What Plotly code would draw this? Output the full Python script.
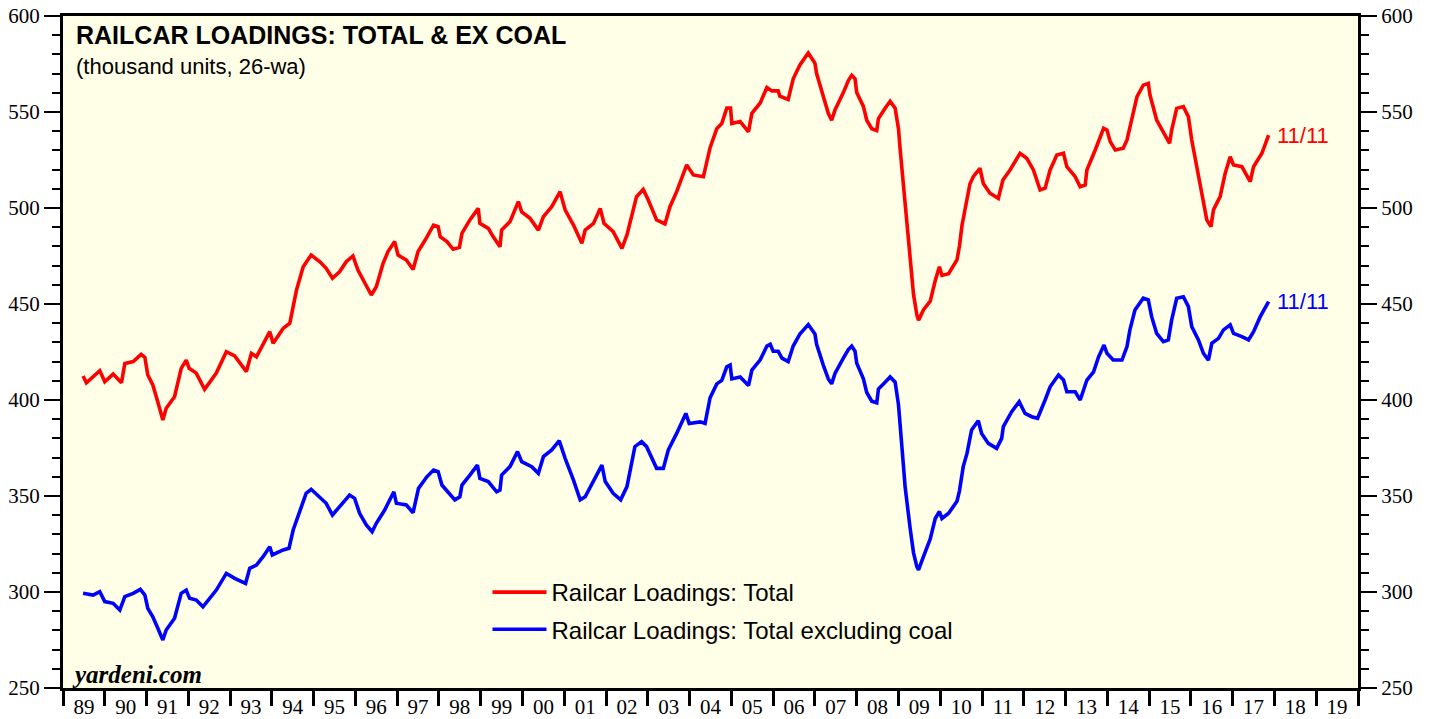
import plotly.graph_objects as go

# ---- data (decimal year, thousand units, 26-week average) ----
total_dates = [
    1989.48, 1989.56, 1989.88, 1990.00, 1990.20, 1990.40, 1990.48, 1990.68, 1990.87, 1990.96,
    1991.03, 1991.15, 1991.27, 1991.39, 1991.47, 1991.67, 1991.83, 1991.95, 1992.02, 1992.19,
    1992.39, 1992.51, 1992.67, 1992.91, 1993.11, 1993.39, 1993.51, 1993.63, 1993.79, 1993.95,
    1994.03, 1994.27, 1994.43, 1994.51, 1994.59, 1994.75, 1994.94, 1995.15, 1995.30, 1995.45,
    1995.62, 1995.78, 1995.94, 1996.06, 1996.22, 1996.38, 1996.50, 1996.66, 1996.78, 1996.94,
    1997.02, 1997.22, 1997.38, 1997.50, 1997.67, 1997.87, 1997.98, 1998.03, 1998.19, 1998.34,
    1998.49, 1998.55, 1998.74, 1998.94, 1998.98, 1999.18, 1999.30, 1999.46, 1999.50, 1999.70,
    1999.90, 1999.98, 2000.18, 2000.38, 2000.50, 2000.70, 2000.90, 2001.02, 2001.22, 2001.42,
    2001.50, 2001.70, 2001.86, 2001.95, 2002.17, 2002.38, 2002.50, 2002.73, 2002.89, 2003.01,
    2003.21, 2003.41, 2003.53, 2003.69, 2003.93, 2004.09, 2004.33, 2004.49, 2004.65, 2004.77,
    2004.89, 2004.98, 2005.01, 2005.21, 2005.41, 2005.49, 2005.69, 2005.85, 2005.97, 2006.12,
    2006.16, 2006.36, 2006.48, 2006.64, 2006.84, 2007.00, 2007.04, 2007.20, 2007.32, 2007.40,
    2007.48, 2007.68, 2007.80, 2007.88, 2007.96, 2008.00, 2008.16, 2008.24, 2008.36, 2008.48,
    2008.52, 2008.68, 2008.80, 2008.92, 2009.00, 2009.04, 2009.16, 2009.28, 2009.36, 2009.44,
    2009.48, 2009.60, 2009.76, 2009.88, 2009.98, 2010.04, 2010.20, 2010.40, 2010.46, 2010.52,
    2010.64, 2010.71, 2010.79, 2010.95, 2011.03, 2011.19, 2011.39, 2011.50, 2011.67, 2011.91,
    2012.07, 2012.23, 2012.39, 2012.51, 2012.63, 2012.79, 2012.95, 2013.03, 2013.23, 2013.35,
    2013.47, 2013.51, 2013.71, 2013.91, 2013.99, 2014.07, 2014.19, 2014.38, 2014.47, 2014.59,
    2014.71, 2014.86, 2014.98, 2015.02, 2015.18, 2015.38, 2015.49, 2015.54, 2015.66, 2015.82,
    2015.94, 2016.02, 2016.14, 2016.26, 2016.38, 2016.48, 2016.54, 2016.70, 2016.82, 2016.94,
    2017.02, 2017.22, 2017.42, 2017.50, 2017.70, 2017.86,
]
total_values = [
    412.5, 409.0, 415.3, 409.5, 413.5, 409.0, 419.0, 420.0, 423.8, 422.2,
    413.0, 407.8, 399.0, 389.6, 395.7, 401.7, 416.5, 420.8, 416.5, 414.0,
    405.6, 409.5, 414.0, 425.2, 423.0, 414.8, 424.3, 422.5, 428.6, 435.6,
    429.5, 437.3, 440.0, 447.7, 457.3, 469.4, 475.5, 472.0, 468.6, 463.4,
    466.8, 472.0, 475.0, 467.7, 460.8, 454.7, 459.0, 471.0, 477.3, 482.5,
    475.5, 472.9, 468.0, 477.3, 483.3, 491.1, 490.3, 485.0, 482.5, 478.5,
    479.5, 486.8, 493.8, 499.8, 492.0, 489.4, 485.0, 479.8, 488.5, 492.9,
    503.3, 498.0, 494.6, 488.5, 495.5, 500.7, 508.5, 499.0, 491.1, 481.6,
    488.5, 492.0, 499.8, 492.0, 487.7, 479.0, 486.0, 505.9, 509.7, 504.2,
    493.8, 491.7, 500.7, 508.5, 522.4, 517.2, 516.3, 531.4, 541.3, 544.0,
    552.0, 552.0, 544.0, 545.0, 539.7, 549.3, 554.7, 562.8, 561.0, 561.0,
    558.3, 556.5, 567.3, 574.5, 580.7, 575.4, 570.0, 558.3, 549.3, 545.7,
    551.1, 560.1, 566.4, 569.1, 567.3, 560.1, 552.9, 545.7, 541.3, 540.3,
    546.6, 552.0, 555.6, 552.0, 541.3, 530.5, 501.7, 476.6, 455.0, 444.3,
    441.6, 447.0, 451.5, 462.2, 469.4, 464.9, 465.8, 473.0, 480.2, 490.9,
    503.5, 512.5, 516.3, 520.7, 512.8, 507.7, 505.0, 514.6, 519.8, 528.5,
    525.9, 519.8, 509.4, 510.3, 519.8, 527.6, 528.5, 521.5, 516.3, 511.1,
    512.0, 519.8, 530.2, 541.5, 540.6, 534.5, 530.2, 531.1, 535.4, 546.7,
    558.0, 564.0, 564.9, 558.9, 545.8, 538.0, 533.7, 540.6, 551.9, 552.8,
    547.5, 535.4, 521.5, 507.7, 493.8, 490.3, 499.0, 505.9, 518.0, 526.7,
    522.4, 521.5, 513.7, 521.5, 528.5, 538.0,
]

excoal_dates = [
    1989.48, 1989.72, 1989.88, 1990.00, 1990.20, 1990.36, 1990.48, 1990.68, 1990.85, 1990.96,
    1991.03, 1991.15, 1991.27, 1991.39, 1991.47, 1991.67, 1991.83, 1991.95, 1992.03, 1992.19,
    1992.35, 1992.51, 1992.67, 1992.91, 1993.11, 1993.37, 1993.47, 1993.63, 1993.79, 1993.95,
    1994.01, 1994.27, 1994.41, 1994.51, 1994.67, 1994.82, 1994.94, 1995.15, 1995.30, 1995.45,
    1995.62, 1995.86, 1995.98, 1996.10, 1996.26, 1996.40, 1996.50, 1996.70, 1996.92, 1996.98,
    1997.22, 1997.38, 1997.51, 1997.71, 1997.87, 1997.98, 1998.07, 1998.22, 1998.38, 1998.50,
    1998.55, 1998.74, 1998.92, 1998.98, 1999.18, 1999.38, 1999.46, 1999.50, 1999.70, 1999.88,
    1999.98, 2000.22, 2000.38, 2000.50, 2000.70, 2000.88, 2001.02, 2001.22, 2001.38, 2001.50,
    2001.70, 2001.90, 2001.98, 2002.17, 2002.35, 2002.50, 2002.69, 2002.85, 2002.97, 2003.21,
    2003.37, 2003.49, 2003.69, 2003.91, 2003.99, 2004.25, 2004.37, 2004.49, 2004.65, 2004.77,
    2004.89, 2004.97, 2005.01, 2005.21, 2005.41, 2005.49, 2005.69, 2005.85, 2005.93, 2006.00,
    2006.12, 2006.21, 2006.36, 2006.48, 2006.64, 2006.84, 2007.00, 2007.04, 2007.20, 2007.32,
    2007.40, 2007.48, 2007.68, 2007.80, 2007.88, 2007.96, 2008.00, 2008.16, 2008.24, 2008.36,
    2008.48, 2008.52, 2008.68, 2008.80, 2008.92, 2009.00, 2009.08, 2009.16, 2009.28, 2009.36,
    2009.44, 2009.48, 2009.60, 2009.76, 2009.88, 2009.98, 2010.04, 2010.20, 2010.40, 2010.46,
    2010.55, 2010.64, 2010.75, 2010.91, 2010.99, 2011.15, 2011.35, 2011.47, 2011.51, 2011.71,
    2011.89, 2012.03, 2012.19, 2012.33, 2012.51, 2012.63, 2012.83, 2012.95, 2013.03, 2013.23,
    2013.35, 2013.51, 2013.67, 2013.79, 2013.92, 2013.99, 2014.14, 2014.35, 2014.47, 2014.54,
    2014.66, 2014.86, 2014.98, 2015.06, 2015.18, 2015.34, 2015.46, 2015.54, 2015.66, 2015.82,
    2015.94, 2016.02, 2016.18, 2016.30, 2016.42, 2016.50, 2016.66, 2016.78, 2016.94, 2017.02,
    2017.22, 2017.38, 2017.50, 2017.66, 2017.86,
]
excoal_values = [
    299.3, 298.4, 300.2, 295.0, 294.1, 290.6, 297.6, 299.3, 301.4, 298.4,
    291.5, 287.1, 281.1, 275.0, 280.2, 286.3, 299.3, 301.0, 296.7, 295.8,
    292.3, 296.7, 301.0, 309.7, 307.1, 304.5, 312.3, 314.0, 318.4, 323.6,
    319.3, 321.9, 322.8, 332.3, 342.7, 351.4, 353.5, 349.6, 346.2, 340.1,
    344.4, 350.5, 348.8, 341.0, 334.9, 331.4, 335.8, 342.7, 352.2, 346.2,
    345.3, 341.3, 354.0, 360.0, 363.5, 362.7, 355.7, 352.2, 348.0, 349.6,
    355.7, 360.9, 366.1, 359.2, 357.5, 352.2, 353.1, 360.9, 365.3, 373.1,
    367.9, 365.3, 361.8, 370.5, 374.0, 378.8, 369.6, 358.3, 348.0, 349.6,
    357.5, 366.1, 357.5, 351.4, 348.0, 354.9, 375.7, 378.3, 375.7, 364.4,
    364.4, 374.0, 382.6, 393.0, 387.8, 388.6, 387.8, 401.2, 408.4, 410.2,
    417.3, 418.2, 411.0, 412.0, 407.5, 415.6, 420.9, 428.1, 429.0, 425.4,
    425.4, 421.8, 420.0, 428.1, 434.4, 439.3, 434.4, 429.0, 418.2, 411.0,
    408.4, 413.8, 421.8, 426.3, 428.1, 425.4, 419.2, 411.0, 403.9, 399.4,
    398.5, 405.7, 409.3, 412.0, 409.3, 397.6, 376.1, 354.5, 333.0, 320.4,
    313.2, 311.5, 318.6, 327.6, 338.3, 341.9, 338.3, 341.0, 347.3, 352.7,
    365.3, 372.2, 384.4, 389.2, 382.6, 377.4, 374.8, 380.0, 386.1, 393.9,
    399.1, 393.0, 391.3, 390.5, 400.0, 406.9, 413.0, 410.4, 404.3, 404.3,
    400.0, 410.4, 414.7, 422.5, 428.6, 424.3, 420.8, 420.8, 427.8, 436.5,
    446.9, 453.0, 452.1, 443.4, 434.7, 430.4, 431.3, 441.7, 453.0, 453.8,
    448.6, 438.2, 431.3, 424.3, 420.8, 429.5, 432.1, 436.5, 439.1, 434.7,
    433.0, 431.3, 435.6, 443.4, 451.2,
]

year_labels = ["89", "90", "91", "92", "93", "94", "95", "96", "97", "98", "99",
               "00", "01", "02", "03", "04", "05", "06", "07", "08", "09",
               "10", "11", "12", "13", "14", "15", "16", "17", "18", "19"]
first_year = 1989
last_label = "11/11"

series_names = ["Railcar Loadings: Total", "Railcar Loadings: Total excluding coal"]
series_colors = ["#FF0000", "#0000FF"]

# ---- figure ----
fig = go.Figure()
fig.add_trace(go.Scatter(x=total_dates, y=total_values, mode="lines",
                         name=series_names[0], legendgroup="a",
                         line=dict(color=series_colors[0], width=3.6)))
fig.add_trace(go.Scatter(x=excoal_dates, y=excoal_values, mode="lines",
                         name=series_names[1], legendgroup="b",
                         line=dict(color=series_colors[1], width=3.6)))
# invisible trace for the right-hand axis
fig.add_trace(go.Scatter(x=[total_dates[0]], y=[total_values[0]], yaxis="y2",
                         mode="lines", showlegend=False, hoverinfo="skip",
                         line=dict(width=0), opacity=0))

label_pos = [first_year + i + 0.5 for i in range(len(year_labels))]
x_range = [first_year, first_year + len(year_labels)]

serif = "Liberation Serif"
sans = "Liberation Sans"

yticks = list(range(250, 601, 50))
yaxis_common = dict(
    range=[250, 600], tickvals=yticks, ticktext=[str(v) for v in yticks],
    ticks="outside", ticklen=16, tickwidth=1.6, tickcolor="black",
    showgrid=False, zeroline=False, showline=True, linewidth=3, linecolor="black",
    tickfont=dict(family=serif, size=21, color="black"),
    minor=dict(tickmode="linear", tick0=250, dtick=10, ticks="outside",
               ticklen=8, tickwidth=1.6, tickcolor="black", showgrid=False),
    fixedrange=True, automargin=False, ticklabeloverflow="allow",
)

fig.update_layout(
    width=1429, height=719,
    margin=dict(l=63, r=71, t=16, b=31, autoexpand=False),
    paper_bgcolor="white",
    plot_bgcolor="#FFFEE6",
    showlegend=True,
    legend=dict(x=0.3278, y=0.1756, xanchor="left", yanchor="top",
                bgcolor="rgba(0,0,0,0)", traceorder="grouped", tracegroupgap=3,
                font=dict(family=sans, size=24, color="black"),
                itemwidth=54),
    xaxis=dict(
        range=x_range, tickmode="array", tickvals=label_pos, ticktext=year_labels,
        ticks="", ticklen=0, showgrid=False, zeroline=False,
        showline=True, linewidth=3, linecolor="black", mirror=True,
        tickfont=dict(family=serif, size=21, color="black"),
        ticklabelstandoff=-2, automargin=False, ticklabeloverflow="allow",
        fixedrange=True,
        minor=dict(tickmode="linear", tick0=first_year, dtick=1, ticks="outside",
                   ticklen=15, tickwidth=3, tickcolor="black", showgrid=False),
    ),
    yaxis=dict(**yaxis_common, side="left", mirror=True),
    yaxis2=dict(**yaxis_common, side="right", overlaying="y"),
)

# title block
fig.add_annotation(text="<b>RAILCAR LOADINGS: TOTAL & EX COAL</b>", xref="paper", yref="paper",
                   x=0, y=1, xanchor="left", yanchor="top", xshift=11, yshift=-3,
                   showarrow=False, font=dict(family=sans, size=25, color="black"))
fig.add_annotation(text="(thousand units, 26-wa)", xref="paper", yref="paper",
                   x=0, y=1, xanchor="left", yanchor="top", xshift=11, yshift=-36,
                   showarrow=False, font=dict(family=sans, size=22, color="black"))
# watermark
fig.add_annotation(text="<b><i>yardeni.com</i></b>", xref="paper", yref="paper",
                   x=0, y=0, xanchor="left", yanchor="bottom", xshift=7, yshift=-2,
                   showarrow=False, font=dict(family=serif, size=25, color="black"))
# end labels
fig.add_annotation(text=last_label, x=total_dates[-1], y=total_values[-1],
                   xanchor="left", yanchor="middle", xshift=6, showarrow=False,
                   font=dict(family=sans, size=22, color=series_colors[0]))
fig.add_annotation(text=last_label, x=excoal_dates[-1], y=excoal_values[-1],
                   xanchor="left", yanchor="middle", xshift=6, showarrow=False,
                   font=dict(family=sans, size=22, color=series_colors[1]))

# remove the default page margin so the figure fills the window exactly
fig.write_html("out.html", config={"displayModeBar": False},
               post_script="document.body.style.margin='0px';")
